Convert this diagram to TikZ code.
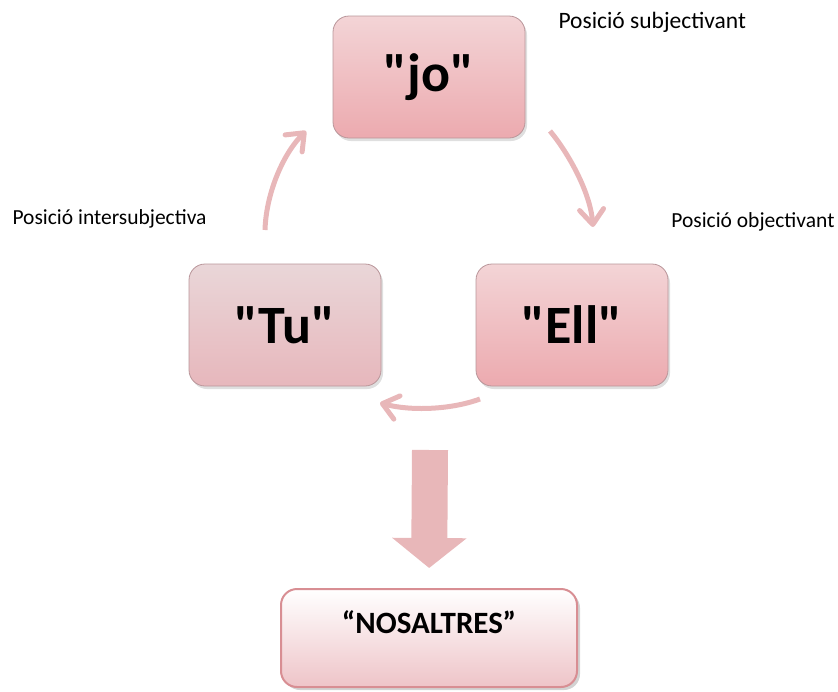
\documentclass[tikz,border=0pt]{standalone}
\usepackage{fontspec}
\setmainfont{Carlito}[Ligatures=TeXOff]
\usetikzlibrary{arrows.meta,shadows}

\definecolor{boxtop}{RGB}{243,212,214}
\definecolor{boxbot}{RGB}{236,170,175}
\definecolor{tutop}{RGB}{233,214,216}
\definecolor{tubot}{RGB}{231,183,188}
\definecolor{boxline}{RGB}{185,150,154}
\definecolor{nosbot}{RGB}{238,196,200}
\definecolor{nosline}{RGB}{216,142,147}
\definecolor{arrowpink}{RGB}{232,183,185}

\tikzset{
  posbox/.style={draw=boxline,line width=0.8pt,rounded corners=16pt,
    top color=boxtop,bottom color=boxbot,minimum width=192pt,minimum height=122pt,
    font=\fontsize{54}{60}\selectfont\bfseries,
    drop shadow={opacity=0.25,shadow xshift=2pt,shadow yshift=-3pt}},
  nosbox/.style={draw=nosline,line width=2pt,rounded corners=16pt,
    top color=white,bottom color=nosbot,minimum width=296pt,minimum height=98pt,
    drop shadow={opacity=0.35,shadow xshift=3pt,shadow yshift=-3pt}},
  posarrow/.style={draw=arrowpink,line width=5pt,
    -{Straight Barb[length=15pt,width=24pt,line cap=round,line join=round]}},
  postext/.style={font=\fontsize{21.5}{24}\selectfont}
}

\begin{document}
\begin{tikzpicture}[x=1pt,y=-1pt]
\useasboundingbox (0,0) rectangle (838,691);

% Boxes
\node[posbox] (jo) at (429,77) {"jo"};
\node[posbox,top color=tutop,bottom color=tubot] (tu) at (285,325) {"Tu"};
\node[posbox] (ell) at (572,325) {"Ell"};
\node[nosbox] (nos) at (429,638) {};
\node[font=\fontsize{31}{34}\selectfont\bfseries,anchor=north] (nostext) at ([yshift=-19pt]nos.north) {“NOSALTRES”};

% Labels
\node[postext,font=\fontsize{23.5}{26}\selectfont,anchor=west] (subj) at (555,22) {Posició subjectivant};
\node[postext,anchor=east] (obj) at (838,222) {Posició objectivant};
\node[postext,anchor=west] (inter) at (9,219) {Posició intersubjectiva};

% Cycle arrows
\coordinate (joout) at (550,131);
\coordinate (ellin) at (593,227);
\coordinate (ellout) at (480,399);
\coordinate (tuin) at (380,403);
\coordinate (tuout) at (265,230);
\coordinate (join) at (306,131);
\draw[posarrow] (joout) .. controls (566,150) and (590,190) .. (ellin);
\draw[posarrow] (ellout) .. controls (450,410) and (410,411) .. (tuin);
\draw[posarrow] (tuout) .. controls (266,195) and (282,155) .. (join);

% Big arrow
\coordinate (bigtop) at (430,450);
\draw[arrowpink,line width=36pt,-{Triangle[length=30pt,width=73pt]},shorten >=20pt] (bigtop) -- (nos.north);
\end{tikzpicture}
\end{document}
